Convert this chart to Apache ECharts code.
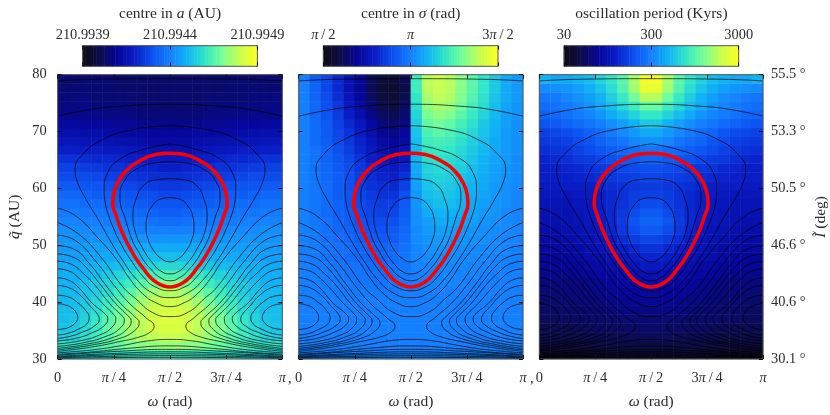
<!DOCTYPE html>
<html>
<head>
<meta charset="utf-8">
<style>html,body{margin:0;padding:0;background:#fff}#chart{width:830px;height:415px}</style>
<script src="https://cdn.jsdelivr.net/npm/echarts@6/dist/echarts.min.js"></script>
</head>
<body>
<div id="chart"></div>
<script>
// tick labels
const omegaTicks = ['0', '{i|π}\u2009/\u20094', '{i|π}\u2009/\u20092', '3{i|π}\u2009/\u20094', '{i|π}'];
const inclinationTicks = ['30.1 °', '40.6 °', '46.6 °', '50.5 °', '53.3 °', '55.5 °'];
const centreATicks = ['210.9939', '210.9944', '210.9949'];
const centreSigmaTicks = ['{i|π}\u2009/\u20092', '{i|π}', '3{i|π}\u2009/\u20092'];
const periodTicks = ['30', '300', '3000'];

// colour scale steps of the three bars, in % of each bar
const colorbarLevels = [0.8,2.3,3.9,5.5,7,8.6,10.2,11.7,13.3,14.8,16.4,18,19.5,21.1,22.7,24.2,25.8,27.3,28.9,30.5,32,33.6,35.2,36.7,38.3,39.8,41.4,43,44.5,46.1,47.7,49.2,50.8,52.3,53.9,55.5,57,58.6,60.2,61.7,63.3,64.8,66.4,68,69.5,71.1,72.7,74.2,75.8,77.3,78.9,80.5,82,83.6,85.2,86.7,88.3,89.8,91.4,93,94.5,96.1,97.7,99.2];
const palette = ['#0c0c14', '#0c0c4a', '#06069a', '#0a1ec8', '#0c50f0', '#1480ff', '#10b4f5', '#32e6c8', '#78ff96', '#c8ff50', '#ffff1e'];

// cells, top row first, in % of the colour bar above each panel
const centreARows = [
[15,15,15,15,15,14,14,14,14,14,14,14,14,14,14,15,15,15,15,15],
[15,15,15,15,15,14,14,14,14,14,14,14,14,14,14,15,15,15,15,15],
[16,16,16,15,15,15,15,14,14,14,14,14,14,15,15,15,15,16,16,16],
[17,17,17,16,16,16,16,15,15,15,15,15,15,16,16,16,16,17,17,17],
[18,18,18,18,17,17,17,16,16,16,16,16,16,17,17,17,18,18,18,18],
[21,21,20,20,20,19,19,18,18,18,18,18,18,19,19,20,20,20,21,21],
[24,24,23,23,22,22,21,21,20,20,20,20,21,21,22,22,23,23,24,24],
[27,27,26,26,25,24,24,23,22,22,22,22,23,24,24,25,26,26,27,27],
[30,30,29,29,28,28,27,26,25,25,25,25,26,27,28,28,29,29,30,30],
[34,34,33,32,32,31,30,29,28,28,28,28,29,30,31,32,32,33,34,34],
[37,37,36,35,34,34,33,32,31,30,30,31,32,33,34,34,35,36,37,37],
[39,39,39,38,37,36,35,34,33,33,33,33,34,35,36,37,38,39,39,39],
[42,42,41,41,40,39,38,37,36,35,35,36,37,38,39,40,41,41,42,42],
[45,45,44,43,43,42,41,40,39,38,38,39,40,41,42,43,43,44,45,45],
[47,47,46,46,45,44,43,42,41,41,41,41,42,43,44,45,46,46,47,47],
[49,49,48,48,47,47,46,45,44,43,43,44,45,46,47,47,48,48,49,49],
[51,51,50,50,49,49,48,48,47,46,46,47,48,48,49,49,50,50,51,51],
[53,53,52,52,52,51,51,50,50,50,50,50,50,51,51,52,52,52,53,53],
[54,54,54,54,54,54,54,54,54,54,54,54,54,54,54,54,54,54,54,54],
[55,55,56,56,56,57,57,58,58,58,58,58,58,57,57,56,56,56,55,55],
[56,56,57,57,58,59,60,61,62,62,62,62,61,60,59,58,57,57,56,56],
[58,58,59,60,61,62,64,65,66,67,67,66,65,64,62,61,60,59,58,58],
[59,59,60,62,64,66,68,71,73,74,74,73,71,68,66,64,62,60,59,59],
[60,60,62,64,66,69,72,76,79,81,81,79,76,72,69,66,64,62,60,60],
[61,61,63,65,68,72,76,81,85,87,87,85,81,76,72,68,65,63,61,61],
[61,62,64,67,71,75,80,85,89,91,91,89,85,80,75,71,67,64,62,61],
[62,62,65,68,73,78,83,88,91,93,93,91,88,83,78,73,68,65,62,62],
[62,63,66,70,75,80,85,89,92,94,94,92,89,85,80,75,70,66,63,62],
[63,64,67,71,76,81,85,89,92,93,93,92,89,85,81,76,71,67,64,63],
[65,66,69,72,76,80,84,87,89,90,90,89,87,84,80,76,72,69,66,65],
[70,70,72,74,76,78,80,82,83,84,84,83,82,80,78,76,74,72,70,70],
[66,66,67,68,69,70,70,71,72,72,72,72,71,70,70,69,68,67,66,66]
];
const centreSigmaRows = [
[50,43,38,32,25,20,12,6,6,12,72,88,90,88,82,76,70,64,58,55],
[50,44,38,32,25,19,12,6,5,10,72,88,90,88,82,76,70,64,58,55],
[50,44,39,33,26,20,13,7,6,11,70,86,89,87,81,75,69,63,58,55],
[50,45,40,35,28,22,15,10,8,13,68,83,86,84,79,73,68,62,57,54],
[50,45,41,36,30,24,18,13,11,15,66,80,83,81,76,71,66,61,56,54],
[50,46,42,37,32,27,21,16,14,17,65,77,79,77,73,69,64,60,56,53],
[50,46,42,38,34,29,24,19,17,20,63,74,76,74,71,67,63,59,55,53],
[50,46,43,39,35,31,26,22,20,22,62,72,73,72,69,65,62,58,55,53],
[50,47,44,40,36,32,28,24,23,25,61,70,71,70,67,64,61,58,55,53],
[50,47,44,41,38,34,30,27,25,28,60,68,69,68,66,63,60,57,55,52],
[50,47,45,42,39,35,32,29,28,31,58,66,67,66,65,62,59,56,54,52],
[50,48,45,43,40,36,33,31,30,34,57,65,66,65,63,61,58,56,54,52],
[50,48,46,43,40,37,34,33,32,37,56,63,65,64,62,60,58,55,53,52],
[50,48,46,43,41,38,36,34,34,40,55,62,63,63,61,59,57,55,53,51],
[50,48,46,44,41,39,37,36,37,42,54,60,62,62,60,58,56,54,53,51],
[50,48,46,44,42,40,38,37,38,43,53,58,60,60,59,57,55,54,52,51],
[50,48,47,45,43,41,39,39,40,44,53,56,58,58,57,56,54,53,52,51],
[50,49,47,45,44,42,41,41,42,45,52,55,56,56,55,54,53,52,52,51],
[50,49,47,46,45,43,42,42,43,46,52,54,55,55,54,53,53,52,51,51],
[50,49,48,47,46,45,44,44,45,47,51,53,54,54,53,52,52,52,51,50],
[50,49,48,47,46,45,45,45,46,48,51,52,53,53,52,52,52,51,51,50],
[50,49,49,48,47,47,46,46,47,48,51,51,52,52,52,51,51,51,50,50],
[50,50,49,49,48,48,47,47,48,49,50,51,51,51,51,51,51,50,50,50],
[50,50,49,49,49,48,48,48,49,49,50,51,51,51,51,50,50,50,50,50],
[50,50,50,49,49,49,49,49,49,50,50,50,50,50,50,50,50,50,50,50],
[50,50,50,50,50,50,50,50,50,50,50,50,50,50,50,50,50,50,50,50],
[50,50,50,50,50,50,50,50,50,50,50,50,50,50,50,50,50,50,50,50],
[50,50,50,50,50,50,50,50,50,50,50,50,50,50,50,50,50,50,50,50],
[50,50,50,50,50,50,50,50,50,50,50,50,50,50,50,50,50,50,50,50],
[50,50,50,50,50,50,50,50,50,50,50,50,50,50,50,50,50,50,50,50],
[50,50,50,50,50,50,50,50,50,50,50,50,50,50,50,50,50,50,50,50],
[50,50,50,50,50,50,50,50,50,50,50,50,50,50,50,50,50,50,50,50]
];
const periodRows = [
[60,58,58,60,62,66,70,76,86,98,98,86,76,70,66,62,60,58,58,60],
[52,53,54,56,59,63,68,75,85,96,96,85,75,68,63,59,56,54,53,52],
[48,49,51,53,56,60,65,71,79,88,88,79,71,65,60,56,53,51,49,48],
[46,47,49,51,54,58,62,67,72,78,78,72,67,62,58,54,51,49,47,46],
[44,45,47,49,51,54,58,62,66,70,70,66,62,58,54,51,49,47,45,44],
[41,42,44,46,48,50,53,56,60,64,64,60,56,53,50,48,46,44,42,41],
[37,38,39,41,44,46,49,52,55,58,58,55,52,49,46,44,41,39,38,37],
[35,36,37,39,41,44,46,48,51,53,53,51,48,46,44,41,39,37,36,35],
[33,34,35,37,39,41,43,45,46,48,48,46,45,43,41,39,37,35,34,33],
[31,32,33,35,36,38,40,41,42,44,44,42,41,40,38,36,35,33,32,31],
[30,30,31,32,34,35,36,38,39,40,40,39,38,36,35,34,32,31,30,30],
[29,29,30,31,32,33,35,36,37,38,38,37,36,35,33,32,31,30,29,29],
[28,28,29,29,30,32,33,34,35,36,36,35,34,33,32,30,29,29,28,28],
[27,27,27,28,29,30,32,34,36,37,37,36,34,32,30,29,28,27,27,27],
[26,26,26,27,28,30,32,34,37,39,39,37,34,32,30,28,27,26,26,26],
[25,25,25,26,28,30,32,35,39,42,42,39,35,32,30,28,26,25,25,25],
[24,24,25,26,27,29,32,36,41,44,44,41,36,32,29,27,26,25,24,24],
[23,23,24,25,26,28,31,35,39,42,42,39,35,31,28,26,25,24,23,23],
[22,22,23,24,25,27,30,33,36,38,38,36,33,30,27,25,24,23,22,22],
[21,21,22,22,24,26,28,30,32,34,34,32,30,28,26,24,22,22,21,21],
[20,20,21,22,23,24,26,28,29,31,31,29,28,26,24,23,22,21,20,20],
[19,19,20,20,21,22,24,25,27,28,28,27,25,24,22,21,20,20,19,19],
[18,18,18,19,20,21,22,23,24,25,25,24,23,22,21,20,19,18,18,18],
[16,16,16,17,18,19,20,21,22,23,23,22,21,20,19,18,17,16,16,16],
[15,15,16,16,17,18,19,20,20,21,21,20,20,19,18,17,16,16,15,15],
[14,14,15,15,16,17,17,18,19,19,19,19,18,17,17,16,15,15,14,14],
[13,13,14,14,15,15,16,17,17,17,17,17,17,16,15,15,14,14,13,13],
[12,12,13,13,14,14,14,15,15,15,15,15,15,14,14,14,13,13,12,12],
[11,11,11,12,12,13,13,13,13,14,14,13,13,13,13,12,12,11,11,11],
[10,10,10,10,11,11,11,11,12,12,12,12,11,11,11,11,10,10,10,10],
[8,8,8,8,8,9,9,9,9,9,9,9,9,9,9,8,8,8,8,8],
[4,4,4,4,5,5,5,5,5,5,5,5,5,5,5,5,4,4,4,4]
];

// level curves as [omega in degrees, q in AU].
// The figure is symmetric about omega = pi/2, so the left half is kept.
const redCurve = [[90,66.19],[78.5,65.96],[65.4,64.79],[54.7,63.04],[48.1,61.01],[44.6,58.67],[44.2,57.22],[46.9,55.17],[49.4,53.55],[52.3,51.97],[58.6,49.18],[64,47.25],[70,45.51],[74,44.41],[79.6,43.41],[85.2,42.83],[90,42.66]];
const islandCurves = [
[[90,58.39],[82,58.09],[75.6,56.87],[71.6,54.95],[70.8,53.2],[72.4,51.1],[77.2,49],[83.6,47.6],[90,47.08]],
[[90,61.71],[78.8,61.5],[68.4,60.42],[62.8,58.09],[60.3,55.3],[62,52.5],[68.4,49.35],[77.2,46.56],[83.6,45.33],[90,44.98]],
[[90,64.68],[78.8,64.51],[62.8,63.34],[53.4,61.29],[49.9,58.67],[50.3,57.22],[53.4,55.17],[56.6,52.85],[60.3,50.58],[64.8,48.83],[69.2,47.25],[74.4,45.86],[81.2,44.46],[90,43.76]],
[[90,67.83],[68.4,66.84],[49.4,65.09],[40.1,62.76],[37.3,59.84],[38.3,57.22],[40.7,55.3],[43.9,53.43],[49.9,50.58],[59.1,47.25],[70,44.11],[78,42.71],[90,42.01]],
[[90,71.03],[60.1,70.33],[36.1,68.58],[20,65.96],[13.9,63.34],[16,61.01],[22.7,58.09],[32.3,54.6],[42.7,50.58],[52.3,47.25],[62.8,44.11],[75.6,41.66],[90,40.79]]
];
const openCurves = [
[[0,78.9],[32,79.2],[90,79.3]],
[[0,72.7],[24,73.8],[47,74.4],[90,74.8]],
[[0,56.52],[14.4,55.18],[33.1,51.1],[48.1,47.25],[57.7,44.11],[68.1,41.48],[78.5,39.91],[90,39.21]],
[[0,53.99],[16.8,51.97],[34.5,47.95],[52.1,42.71],[62.5,40.61],[76.1,38.16],[90,37.46]],
[[0,31.08],[28,31.61],[52.1,32.39],[72.1,33.18],[90,33.44]],
[[0,30.85],[24,31.17],[56.1,31.87],[90,32.31]],
[[0,30.65],[48.1,31.35],[90,31.7]],
[[0,30.47],[48.1,31],[90,31.26]],
[[0,30.33],[90,30.91]],
[[0,30.21],[90,30.59]],
[[0,30.09],[90,30.3]]
];
const lobeCurves = [
[[0,51.8],[14.4,50.8],[30.9,47.08],[45.4,42.88],[57.7,39.74],[70.5,37.29],[77.3,35.72],[73.7,34.67],[64.1,33.79],[52.1,33.18],[28,32.13],[0,31.35]],
[[0,49.93],[12.8,49.35],[25.6,46.73],[37.7,43.23],[50.5,39.74],[61.7,37.46],[65.3,36.41],[61.7,35.02],[49.7,33.62],[25.6,32.39],[0,31.61]],
[[0,48.48],[12.8,47.87],[22.4,46.21],[33.7,43.23],[46.5,39.74],[56.1,37.64],[58.9,36.77],[55.3,35.19],[43.3,33.71],[22.4,32.57],[0,31.87]],
[[0,47.2],[11.2,46.64],[20.8,44.98],[28.9,43.23],[41.7,39.74],[51.3,37.64],[53.4,36.94],[49.7,35.37],[38.5,33.97],[20,32.83],[0,32.22]],
[[0,45.86],[9.6,45.42],[17.6,44.11],[24,42.71],[36.1,39.74],[44.9,37.81],[46.5,37.11],[43.3,35.54],[33.7,34.23],[17.6,33.18],[0,32.66]],
[[0,44.28],[8,43.93],[16,42.71],[28,39.74],[37.7,37.99],[40.1,37.11],[36.9,35.8],[27.2,34.58],[14.4,33.62],[0,33.18]],
[[0,42.94],[8,42.62],[17.6,41.31],[26.4,39.21],[32.1,37.81],[33.3,36.94],[28.9,35.72],[19.2,34.67],[9.6,33.97],[0,33.62]],
[[0,41.22],[8,40.96],[16,39.91],[22.4,38.51],[25.2,37.29],[23.2,36.15],[16,35.19],[8,34.49],[0,34.23]],
[[0,39.74],[6.4,39.48],[12,38.87],[15.2,37.99],[16,37.29],[14.4,36.41],[9.6,35.63],[4,35.28],[0,35.19]]
];

const FONT = 'Liberation Serif';
const FS = 14.4;
const NAME_FS = 15.5;
const TEXT = '#2b2b2b';
const rich = {i: {fontFamily: FONT, fontSize: FS, fontStyle: 'italic', color: TEXT}};
const nameRich = {i: {fontFamily: FONT, fontSize: NAME_FS, fontStyle: 'italic', color: TEXT}};
const nameStyle = {fontFamily: FONT, fontSize: NAME_FS, color: TEXT, rich: nameRich};

const flip = c => c.map(p => [180 - p[0], p[1]]);
const mirrored = c => c.concat(flip(c).reverse());

const panels = [
    {left: 57.7, width: 224.6, rows: centreARows, barLeft: 82.7, title: 'centre in {i|a} (AU)', ticks: centreATicks},
    {left: 298.7, width: 224.3, rows: centreSigmaRows, barLeft: 323.3, title: 'centre in {i|σ} (rad)', ticks: centreSigmaTicks},
    {left: 539.3, width: 225, rows: periodRows, barLeft: 564, title: 'oscillation period (Kyrs)', ticks: periodTicks}
];

const grid = [], xAxis = [], yAxis = [], series = [], heatIndex = [];
const tick = {show: true, inside: true, length: 4, lineStyle: {color: '#111', width: 1}};
const hiddenCat = (gridIndex, n) => ({type: 'category', gridIndex, show: false, data: n});

function addLine(data, width, color, xi, yi, z) {
    series.push({
        type: 'line', data, xAxisIndex: xi, yAxisIndex: yi, z, silent: true,
        showSymbol: false, symbol: 'none', smooth: 0.5, animation: false,
        lineStyle: {color, width}
    });
}

panels.forEach((p, idx) => {
    // main panel
    const g = grid.length;
    grid.push({left: p.left, top: 74.7, width: p.width, height: 286, show: true, z: 5,
        backgroundColor: 'transparent', borderColor: '#555', borderWidth: 1});
    const rowsUp = p.rows.slice().reverse();
    const cx = xAxis.length, cy = yAxis.length;
    xAxis.push(hiddenCat(g, rowsUp[0].map((v, i) => i)));
    yAxis.push(hiddenCat(g, rowsUp.map((v, i) => i)));
    const vx = xAxis.length, vy = yAxis.length;
    xAxis.push({
        type: 'value', gridIndex: g, position: 'bottom', min: 0, max: 180, interval: 45, z: 6,
        axisLine: {show: false, onZero: false}, axisTick: tick, splitLine: {show: false},
        axisLabel: {margin: 12, fontFamily: FONT, fontSize: FS, color: TEXT, rich, formatter: v => omegaTicks[v / 45]},
        name: '{i|ω} (rad)', nameLocation: 'middle', nameGap: 35,
        nameTextStyle: nameStyle
    });
    xAxis.push({
        type: 'value', gridIndex: g, position: 'top', min: 0, max: 180, interval: 45, z: 6,
        axisLine: {show: false, onZero: false}, axisTick: tick, axisLabel: {show: false}, splitLine: {show: false}
    });
    yAxis.push({
        type: 'value', gridIndex: g, position: 'left', min: 30, max: 80, interval: 10, z: 6,
        axisLine: {show: false, onZero: false}, axisTick: tick, splitLine: {show: false},
        axisLabel: {show: idx === 0, margin: 11, fontFamily: FONT, fontSize: FS, color: TEXT},
        name: idx === 0 ? '{i|q̃} (AU)' : '', nameLocation: 'middle', nameGap: 35, nameRotate: 90,
        nameTextStyle: nameStyle
    });
    yAxis.push({
        type: 'value', gridIndex: g, position: 'right', min: 30, max: 80, interval: 10, z: 6,
        axisLine: {show: false, onZero: false}, axisTick: tick, splitLine: {show: false},
        axisLabel: {show: idx === 2, margin: 8, fontFamily: FONT, fontSize: FS, color: TEXT, formatter: v => inclinationTicks[(v - 30) / 10]},
        name: idx === 2 ? '{i|Ĩ} (deg)' : '', nameLocation: 'middle', nameGap: 50, nameRotate: 90,
        nameTextStyle: nameStyle
    });

    heatIndex.push(series.length);
    const cells = [];
    rowsUp.forEach((row, r) => row.forEach((v, c) => cells.push([c, r, v])));
    series.push({type: 'heatmap', data: cells, xAxisIndex: cx, yAxisIndex: cy, z: 2, silent: true, animation: false, progressive: 0});

    islandCurves.concat(openCurves).forEach(c => addLine(mirrored(c), 0.7, '#000', vx, vy, 3));
    lobeCurves.forEach(c => {
        addLine(c, 0.7, '#000', vx, vy, 3);
        addLine(flip(c), 0.7, '#000', vx, vy, 3);
    });
    addLine(mirrored(redCurve), 3.6, '#ff0000', vx, vy, 4);

    // colour bar
    const b = grid.length;
    grid.push({left: p.barLeft, top: 45.7, width: 174.7, height: 20.6, show: true, z: 5,
        backgroundColor: 'transparent', borderColor: '#555', borderWidth: 1});
    const bx = xAxis.length, by = yAxis.length;
    xAxis.push(hiddenCat(b, colorbarLevels.map((v, i) => i)));
    yAxis.push(hiddenCat(b, [0]));
    xAxis.push({
        type: 'value', gridIndex: b, position: 'top', min: 0, max: 100, interval: 50, z: 6,
        axisLine: {show: false, onZero: false}, axisTick: tick, splitLine: {show: false},
        axisLabel: {margin: 3, fontFamily: FONT, fontSize: FS, color: TEXT, rich, formatter: v => p.ticks[v / 50]},
        name: p.title, nameLocation: 'middle', nameGap: 24,
        nameTextStyle: nameStyle
    });
    xAxis.push({
        type: 'value', gridIndex: b, position: 'bottom', min: 0, max: 100, interval: 50, z: 6,
        axisLine: {show: false, onZero: false}, axisTick: tick, axisLabel: {show: false}, splitLine: {show: false}
    });
    heatIndex.push(series.length);
    series.push({
        type: 'heatmap', data: colorbarLevels.map((v, i) => [i, 0, v]),
        xAxisIndex: bx, yAxisIndex: by, z: 2, silent: true, animation: false, progressive: 0
    });
});

const chart = echarts.init(document.getElementById('chart'), null, {renderer: 'canvas'});
chart.setOption({
    animation: false,
    backgroundColor: '#fff',
    grid, xAxis, yAxis, series,
    visualMap: {show: false, type: 'continuous', min: 0, max: 100, dimension: 2, seriesIndex: heatIndex, inRange: {color: palette}},
    graphic: [288, 530].map(x => ({
        type: 'text', left: x, top: 372, silent: true,
        style: {text: ',', fontFamily: FONT, fontSize: FS, fill: TEXT}
    }))
});
</script>
</body>
</html>
